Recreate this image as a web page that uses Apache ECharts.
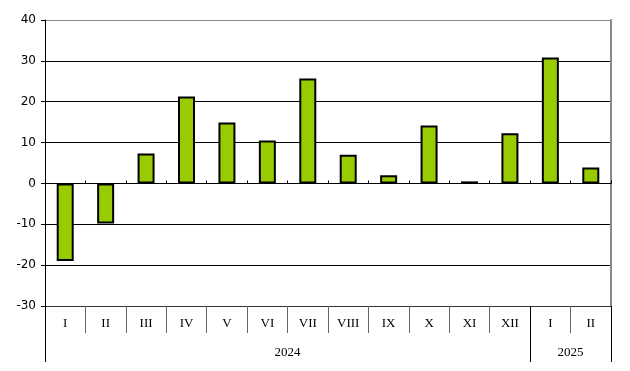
<!DOCTYPE html>
<html>
<head>
<meta charset="utf-8">
<script src="https://cdn.jsdelivr.net/npm/echarts@6/dist/echarts.min.js"></script>
<style>
  html, body { margin: 0; padding: 0; background: #fff; }
  #main { width: 630px; height: 371px; }
</style>
</head>
<body>
<div id="main"></div>
<script>
// месяцы и значения
const months = ['I', 'II', 'III', 'IV', 'V', 'VI', 'VII', 'VIII', 'IX', 'X', 'XI', 'XII', 'I', 'II'];
const values = [-19.0, -9.8, 7.3, 21.3, 14.9, 10.5, 25.7, 7.0, 2.0, 14.2, 0.5, 12.3, 30.8, 3.9];
const years = ['2024', '2025'];
const yearStart = [0, 12, 14]; // границы групп по годам
const yearMid = [6, 13];

const chart = echarts.init(document.getElementById('main'));

chart.setOption({
  animation: false,
  grid: { left: 45, right: 19, top: 20, bottom: 65, show: false },
  xAxis: [
    {
      type: 'category',
      data: months,
      position: 'bottom',
      axisLine: { onZero: false, lineStyle: { color: '#333', width: 1 } },
      axisTick: { show: true, length: 27, lineStyle: { color: '#666' } },
      axisLabel: {
        margin: 11,
        color: '#000',
        fontFamily: 'Liberation Serif',
        fontSize: 13,
        interval: 0
      },
      splitLine: { show: false }
    },
    {
      // штрихи на нулевой линии
      type: 'category',
      data: months,
      axisLine: { onZero: true, lineStyle: { color: '#000' } },
      axisTick: { show: true, length: 3, lineStyle: { color: '#000' } },
      axisLabel: { show: false },
      splitLine: { show: false }
    },
    {
      // годы
      type: 'value',
      min: 0,
      max: 14,
      position: 'bottom',
      axisLine: { show: false, onZero: false },
      axisTick: {
        show: true,
        length: 56,
        customValues: yearStart,
        lineStyle: { color: '#000' }
      },
      axisLabel: {
        customValues: yearMid,
        formatter: (v) => years[yearMid.indexOf(v)],
        margin: 40,
        color: '#000',
        fontFamily: 'Liberation Serif',
        fontSize: 13
      },
      splitLine: { show: false }
    }
  ],
  yAxis: [
    {
      type: 'value',
      min: -30,
      max: 40,
      interval: 10,
      axisLine: { show: true, lineStyle: { color: '#000' } },
      axisTick: { show: true, length: 4, lineStyle: { color: '#000' } },
      axisLabel: {
        margin: 9,
        color: '#000',
        fontFamily: 'DejaVu Sans',
        fontSize: 12
      },
      splitLine: {
        show: true,
        lineStyle: {
          color: ['#000', '#000', '#000', '#000', '#000', '#000', '#000', '#888'],
          width: 1
        }
      }
    },
    {
      type: 'value',
      min: -30,
      max: 40,
      position: 'right',
      axisLine: { show: true, lineStyle: { color: '#888', width: 2 } },
      axisTick: { show: false },
      axisLabel: { show: false },
      splitLine: { show: false }
    }
  ],
  series: [
    {
      type: 'bar',
      data: values,
      barWidth: 17,
      itemStyle: {
        color: '#99cc00',
        borderColor: '#000',
        borderWidth: 2
      }
    }
  ]
});
</script>
</body>
</html>
